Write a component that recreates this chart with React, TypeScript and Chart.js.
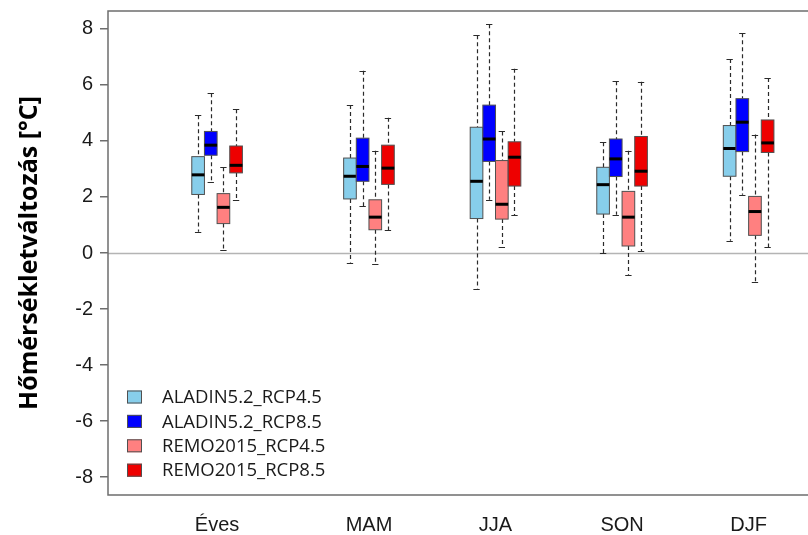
import React, { useEffect, useRef } from "react";
import { Chart, registerables } from "chart.js";

Chart.register(...registerables);

// ---- Data ----
const categories = ["Éves", "MAM", "JJA", "SON", "DJF"];
const seriesNames = ["ALADIN5.2_RCP4.5", "ALADIN5.2_RCP8.5", "REMO2015_RCP4.5", "REMO2015_RCP8.5"];
const seriesColors = ["#87CEEB", "#0000FF", "#FF8080", "#EE0000"];

// each entry: [lower whisker, Q1, median, Q3, upper whisker]
const aladin45Stats = [
  [0.76, 2.09, 2.79, 3.44, 4.92],
  [-0.34, 1.93, 2.74, 3.39, 5.28],
  [-1.28, 1.23, 2.56, 4.49, 7.77],
  [0.0, 1.39, 2.44, 3.06, 3.95],
  [0.44, 2.74, 3.73, 4.55, 6.93],
];
const aladin85Stats = [
  [2.55, 3.49, 3.85, 4.34, 5.7],
  [1.68, 2.56, 3.09, 4.1, 6.51],
  [1.9, 3.27, 4.07, 5.28, 8.17],
  [1.37, 2.73, 3.36, 4.07, 6.13],
  [2.08, 3.62, 4.67, 5.51, 7.85],
];
const remo45Stats = [
  [0.12, 1.05, 1.63, 2.12, 3.06],
  [-0.4, 0.83, 1.28, 1.9, 3.65],
  [0.2, 1.21, 1.74, 3.3, 4.34],
  [-0.78, 0.25, 1.28, 2.2, 3.65],
  [-1.02, 0.63, 1.48, 2.02, 4.23],
];
const remo85Stats = [
  [1.9, 2.86, 3.13, 3.82, 5.13],
  [0.82, 2.45, 3.03, 3.85, 4.83],
  [1.34, 2.39, 3.42, 3.97, 6.58],
  [0.07, 2.39, 2.92, 4.16, 6.11],
  [0.2, 3.59, 3.93, 4.75, 6.25],
];
const allSeries = [aladin45Stats, aladin85Stats, remo45Stats, remo85Stats];

const groupPositions = [0, 12, 22, 32, 42];
const seriesOffsets = [-1.5, -0.5, 0.5, 1.5];
const yTicks = [-8, -6, -4, -2, 0, 2, 4, 6, 8];
const yTitle = "Hőmérsékletváltozás [°C]";

const X_MIN = -8.62;
const X_MAX = 48.43;
const Y_MIN = -8.64;
const Y_MAX = 8.64;

const boxplotPlugin = {
  id: "boxplotDraw",
  beforeDatasetsDraw(chart: any) {
    const { ctx, chartArea, scales } = chart;
    const y0 = Math.round(scales.y.getPixelForValue(0)) + 0.5;
    ctx.save();
    ctx.strokeStyle = "#b4b4b4";
    ctx.lineWidth = 1.5;
    ctx.beginPath();
    ctx.moveTo(chartArea.left, y0);
    ctx.lineTo(chartArea.right, y0);
    ctx.stroke();
    ctx.restore();
  },
  afterDatasetsDraw(chart: any) {
    const { ctx, scales } = chart;
    const x = scales.x;
    const y = scales.y;
    ctx.save();
    allSeries.forEach((stats, si) => {
      stats.forEach((s, gi) => {
        const [lo, q1, med, q3, hi] = s;
        const c = groupPositions[gi] + seriesOffsets[si];
        const xl = x.getPixelForValue(c - 0.5);
        const xr = x.getPixelForValue(c + 0.5);
        const xc = Math.round(x.getPixelForValue(c)) + 0.5;
        const capL = x.getPixelForValue(c - 0.25);
        const capR = x.getPixelForValue(c + 0.25);
        const yLo = y.getPixelForValue(lo);
        const yQ1 = y.getPixelForValue(q1);
        const yMed = y.getPixelForValue(med);
        const yQ3 = y.getPixelForValue(q3);
        const yHi = y.getPixelForValue(hi);
        // whiskers
        ctx.strokeStyle = "#2a2a2a";
        ctx.lineWidth = 1.2;
        ctx.setLineDash([4, 3]);
        ctx.beginPath();
        ctx.moveTo(xc, yHi);
        ctx.lineTo(xc, yQ3);
        ctx.moveTo(xc, yQ1);
        ctx.lineTo(xc, yLo);
        ctx.stroke();
        ctx.setLineDash([]);
        // caps
        ctx.beginPath();
        ctx.moveTo(capL, Math.round(yHi) + 0.5);
        ctx.lineTo(capR, Math.round(yHi) + 0.5);
        ctx.moveTo(capL, Math.round(yLo) + 0.5);
        ctx.lineTo(capR, Math.round(yLo) + 0.5);
        ctx.stroke();
        // box
        ctx.fillStyle = seriesColors[si];
        ctx.fillRect(xl, yQ3, xr - xl, yQ1 - yQ3);
        ctx.strokeStyle = "#505050";
        ctx.lineWidth = 1;
        ctx.strokeRect(xl, yQ3, xr - xl, yQ1 - yQ3);
        // median
        ctx.strokeStyle = "#000000";
        ctx.lineWidth = 3;
        ctx.beginPath();
        ctx.moveTo(xl, yMed);
        ctx.lineTo(xr, yMed);
        ctx.stroke();
      });
    });
    ctx.restore();
  },
  afterDraw(chart: any) {
    const { ctx, chartArea } = chart;
    ctx.save();
    // frame (left, top, bottom)
    ctx.strokeStyle = "#6e6e6e";
    ctx.lineWidth = 1.5;
    ctx.beginPath();
    ctx.moveTo(chartArea.right + 2, chartArea.top);
    ctx.lineTo(chartArea.left, chartArea.top);
    ctx.lineTo(chartArea.left, chartArea.bottom);
    ctx.lineTo(chartArea.right + 2, chartArea.bottom);
    ctx.stroke();
    // legend
    const lx = chartArea.left + 19;
    const ly = chartArea.top + 386;
    const rowH = 24.4;
    ctx.font = "18.5px 'Open Sans', 'Noto Sans', sans-serif";
    ctx.textBaseline = "middle";
    ctx.textAlign = "left";
    seriesNames.forEach((name, i) => {
      const cy = ly + i * rowH;
      ctx.fillStyle = seriesColors[i];
      ctx.fillRect(lx, cy - 6.5, 15, 13);
      ctx.strokeStyle = "#505050";
      ctx.lineWidth = 1;
      ctx.strokeRect(lx + 0.5, cy - 6.5 + 0.5, 14, 12);
      ctx.fillStyle = "#1a1a1a";
      ctx.fillText(name, lx + 35, cy + 1);
    });
    ctx.restore();
  },
};

export default function App() {
  const canvasRef = useRef<HTMLCanvasElement | null>(null);

  useEffect(() => {
    document.body.style.margin = "0";
    const canvas = canvasRef.current;
    if (!canvas) return;
    const chart = new Chart(canvas, {
      type: "scatter",
      data: { datasets: [] },
      plugins: [boxplotPlugin],
      options: {
        animation: false,
        responsive: false,
        devicePixelRatio: 1,
        layout: { padding: { top: 11, left: 0, right: 0, bottom: 0 } },
        plugins: { legend: { display: false }, tooltip: { enabled: false } },
        scales: {
          x: {
            type: "linear",
            min: X_MIN,
            max: X_MAX,
            afterBuildTicks: (scale: any) => {
              scale.ticks = groupPositions.map((v) => ({ value: v }));
            },
            afterFit: (scale: any) => {
              scale.height = 40;
              scale.paddingLeft = 0;
              scale.paddingRight = 0;
            },
            grid: { display: false, drawTicks: false },
            border: { display: false },
            ticks: {
              padding: 18,
              maxRotation: 0,
              autoSkip: false,
              color: "#1a1a1a",
              font: { family: "'Liberation Sans', Arial, sans-serif", size: 20 },
              callback: (_v: any, i: number) => categories[i],
            },
          },
          y: {
            type: "linear",
            min: Y_MIN,
            max: Y_MAX,
            afterBuildTicks: (scale: any) => {
              scale.ticks = yTicks.map((v) => ({ value: v }));
            },
            afterFit: (scale: any) => {
              scale.width = 108;
              scale.paddingTop = 0;
              scale.paddingBottom = 0;
            },
            grid: {
              drawOnChartArea: false,
              drawTicks: true,
              tickLength: 8,
              color: "#6e6e6e",
              lineWidth: 1.5,
            },
            border: { display: false },
            ticks: {
              padding: 7,
              autoSkip: false,
              color: "#1a1a1a",
              font: { family: "'Liberation Sans', Arial, sans-serif", size: 20 },
              callback: (v: any) => String(v),
            },
            title: {
              display: true,
              text: yTitle,
              color: "#000000",
              padding: { top: 15, bottom: 0 },
              font: { family: "'Open Sans', 'Noto Sans', sans-serif", size: 25, weight: "bold" },
            },
          },
        },
      },
    } as any);
    return () => chart.destroy();
  }, []);

  return (
    <div style={{ position: "absolute", left: 0, top: 0, width: 808, height: 535, overflow: "hidden" }}>
      <canvas ref={canvasRef} width={830} height={535} style={{ width: 830, height: 535, display: "block" }} />
    </div>
  );
}
